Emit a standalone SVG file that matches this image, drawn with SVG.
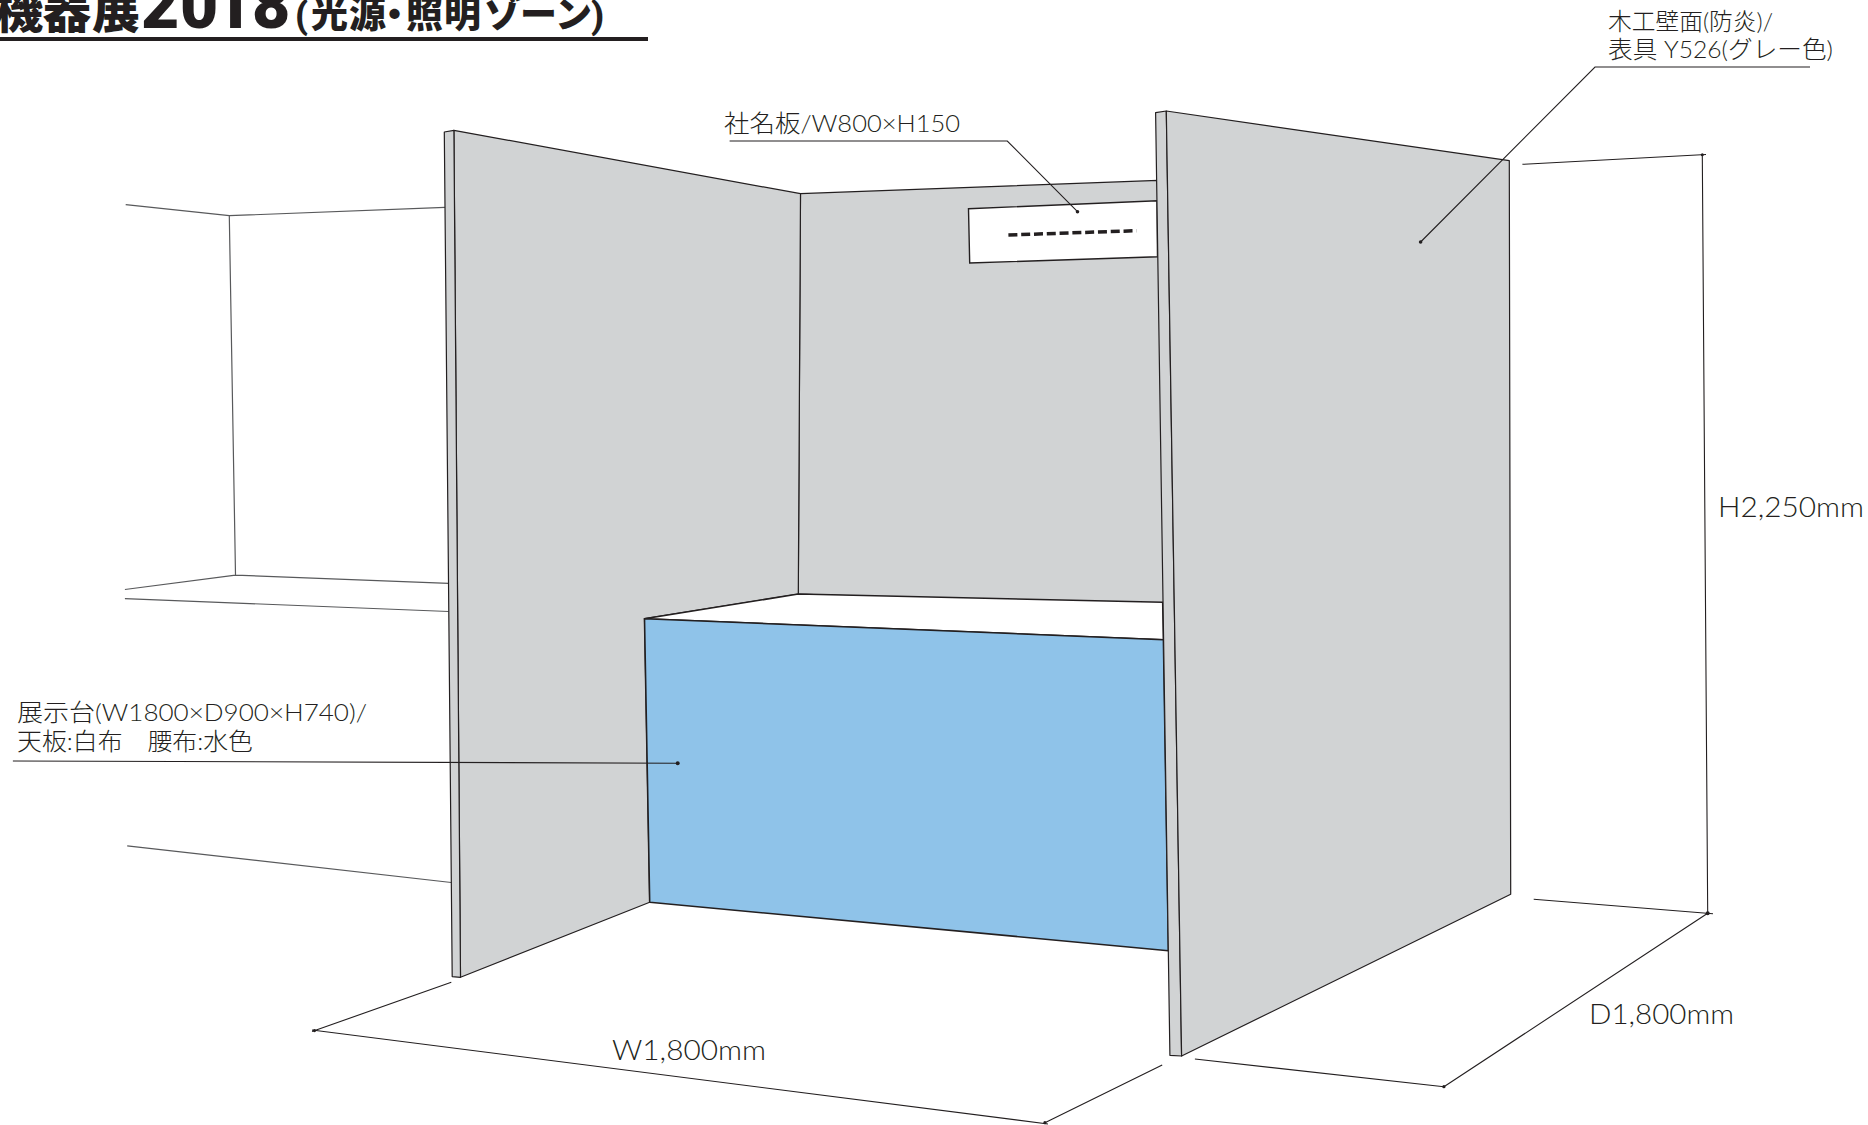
<svg xmlns="http://www.w3.org/2000/svg" width="1868" height="1125" viewBox="0 0 1868 1125">
<style>
text{font-family:"Lato","Noto Sans CJK JP",sans-serif;font-weight:300;fill:#231f20;font-size:24px}
.dim{font-size:28px}
.ttl{font-family:"Roboto","Noto Sans CJK JP",sans-serif;font-weight:900}
.bg{fill:none;stroke:#58595b;stroke-width:1.2}
.wall{fill:#d1d3d4;stroke:#231f20;stroke-width:1.2;stroke-linejoin:round}
.ln{fill:none;stroke:#231f20;stroke-width:1.1}
.dot{fill:#231f20}
</style>
<rect width="1868" height="1125" fill="#fff"/>
<g id="title">
<text class="ttl" x="-5 43 92" y="28" style="font-size:48px">機器展</text>
<text class="ttl" x="141 180 214 252" y="28" style="font-size:66px">2018</text>
<text class="ttl" x="295 311 349 376 406 444 484 520 555 591" y="28" style="font-size:37px">(光源・照明ゾーン)</text>
<rect x="0" y="37" width="648" height="4" fill="#231f20"/>
</g>
<g id="background-booth">
<path class="bg" d="M125.700 204.700L229.300 215.700L444.900 207.300M229.300 215.700L235.500 575.100M124.900 589.500L235.500 575.100L448.600 583.400M124.900 598.600L448.600 611.500M127.200 845.800L451.300 882.500"/>
</g>
<g id="back-wall">
<path class="wall" d="M800.500 193.700L1158 180.400L1165 606L798.300 594Z"/>
</g>
<g id="name-plate">
<path d="M968.500 208.700L1157 200.700L1157.500 256.700L969.700 263Z" fill="#fff" stroke="#231f20" stroke-width="1.4"/>
<path d="M1008.400 235L1136.500 230.700" fill="none" stroke="#231f20" stroke-width="3.500" stroke-dasharray="9 3.800"/>
</g>
<g id="left-wall">
<path class="wall" d="M453.900 130.300L800.500 193.700L798.300 594L644.500 618.700L649.700 902.300L460.500 977.300Z"/>
<path class="wall" d="M444.300 132L453.900 130.300L460.500 977.300L452.200 976.600Z"/>
</g>
<g id="display-table">
<path d="M644.500 618.700L798.300 594L1162.700 602.300L1163.400 639.700Z" fill="#fff" stroke="#231f20" stroke-width="1.6" stroke-linejoin="round"/>
<path d="M644.500 618.700L1163.400 639.700L1168.400 950.700L649.700 902.300Z" fill="#8fc3e9" stroke="#231f20" stroke-width="1.6" stroke-linejoin="round"/>
</g>
<g id="right-wall">
<path class="wall" d="M1155.600 112.700L1166.300 111L1181.600 1056L1169.900 1055.300Z"/>
<path class="wall" d="M1166.300 111L1509.300 160.700L1510.700 894.300L1181.600 1056Z"/>
</g>
<g id="connectors">
<path class="ln" d="M729.600 141H1007.300L1077.500 211.700"/>
<circle class="dot" cx="1077.500" cy="211.700" r="1.800"/>
<path class="ln" d="M1810 67H1595L1420.600 242"/>
<circle class="dot" cx="1420.600" cy="242" r="1.800"/>
<path class="ln" d="M12.900 761L677.700 763.200"/>
<circle class="dot" cx="677.700" cy="763.200" r="2"/>
<path class="ln" d="M1522.400 164.300L1706 154.500M1702.300 154.700L1707.700 913.300"/>
<path class="ln" d="M1533.700 899.300L1713 913.700M1707.700 913.300L1443.900 1086.700M1194.900 1059L1443.900 1086.700"/>
<path class="ln" d="M1162.200 1065L1044.900 1122.700M1048 1124L312 1030M451.300 982.300L312 1031.500"/>
<circle class="dot" cx="1702.300" cy="154.700" r="1.500"/>
<circle class="dot" cx="1707.700" cy="913.300" r="2"/>
<circle class="dot" cx="1443.900" cy="1086.700" r="1.600"/>
<circle class="dot" cx="1044.900" cy="1122.700" r="1.600"/>
<circle class="dot" cx="314.500" cy="1030.600" r="1.600"/>
</g>
<g id="labels">
<text x="724" y="132" textLength="236" lengthAdjust="spacingAndGlyphs">社名板/W800×H150</text>
<text x="1608" y="30" textLength="165" lengthAdjust="spacingAndGlyphs">木工壁面(防炎)/</text>
<text x="1608" y="58" textLength="225" lengthAdjust="spacingAndGlyphs">表具 Y526(グレー色)</text>
<text x="17" y="721" textLength="350" lengthAdjust="spacingAndGlyphs">展示台(W1800×D900×H740)/</text>
<text x="17" y="750" textLength="236" lengthAdjust="spacingAndGlyphs" xml:space="preserve">天板:白布　腰布:水色</text>
<text class="dim" x="612" y="1060" textLength="154" lengthAdjust="spacingAndGlyphs">W1,800mm</text>
<text class="dim" x="1589" y="1024" textLength="145" lengthAdjust="spacingAndGlyphs">D1,800mm</text>
<text class="dim" x="1718" y="517" textLength="146" lengthAdjust="spacingAndGlyphs">H2,250mm</text>
</g>
</svg>
